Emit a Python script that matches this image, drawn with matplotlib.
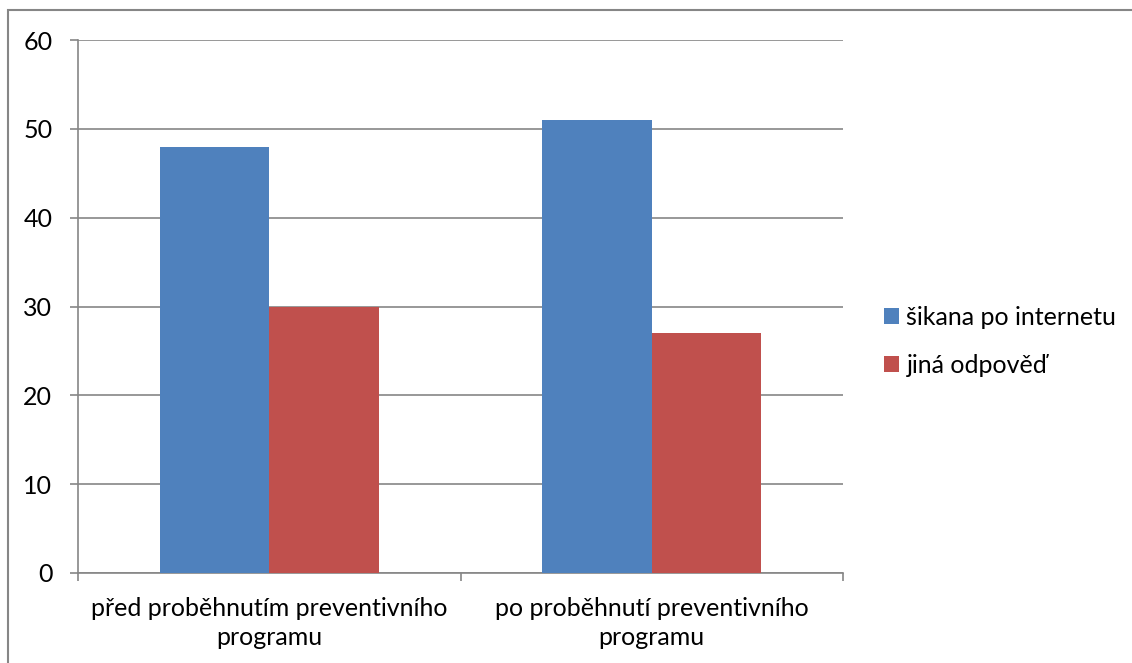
import matplotlib
matplotlib.use("Agg")
import matplotlib.pyplot as plt
import numpy as np
from matplotlib.patches import Rectangle

plt.rcParams['font.family'] = ['Lato', 'DejaVu Sans']

categories = ["před proběhnutím preventivního\nprogramu",
              "po proběhnutí preventivního\nprogramu"]
series_names = ["šikana po internetu", "jiná odpověď"]
sikana = [48, 51]
jina = [30, 27]
colors = ["#4F81BD", "#C0504D"]
grid_color = "#868686"
fs = 18

fig = plt.figure(figsize=(11.32, 6.63), dpi=100)
ax = fig.add_axes([78 / 1132, 1 - 573 / 663, (843 - 78) / 1132, (573 - 40) / 663])

x = np.arange(len(categories))
w = 1 / 3.5
ax.bar(x - w / 2, sikana, width=w, color=colors[0], label=series_names[0], zorder=3)
ax.bar(x + w / 2, jina, width=w, color=colors[1], label=series_names[1], zorder=3)

ax.set_xlim(-0.5, len(categories) - 0.5)
ax.set_ylim(0, 60)
ax.set_yticks(range(0, 61, 10))
ax.yaxis.grid(True, color=grid_color, linewidth=1.2, zorder=0)
ax.set_axisbelow(True)

for s in ["top", "right"]:
    ax.spines[s].set_visible(False)
for s in ["left", "bottom"]:
    ax.spines[s].set_color(grid_color)
    ax.spines[s].set_linewidth(1.2)

ax.tick_params(axis="y", length=6, color=grid_color, width=1.2, labelsize=fs, pad=12.5)
ax.set_xticks(x)
ax.set_xticklabels(categories, fontsize=fs, linespacing=1.35)
ax.tick_params(axis="x", length=0, labelsize=fs, pad=17)
# category separators on the x axis
ax.set_xticks(np.arange(-0.5, len(categories)), minor=True)
ax.tick_params(axis="x", which="minor", length=6, color=grid_color, width=1.2)

handles, labels = ax.get_legend_handles_labels()
fig.legend(handles, labels, loc="center left",
           bbox_to_anchor=(884 / 1132, 1 - 341.5 / 663), frameon=False,
           borderpad=0, borderaxespad=0,
           fontsize=fs, handlelength=0.6, handleheight=0.6,
           handletextpad=0.3, labelspacing=1.0)

# outer chart border
fig.patches.append(Rectangle((8 / 1132, -0.1), 1.2, 1 - 10 / 663 + 0.1,
                             transform=fig.transFigure, fill=False,
                             edgecolor=grid_color, linewidth=1.5))

fig.savefig("out.png", dpi=100)
